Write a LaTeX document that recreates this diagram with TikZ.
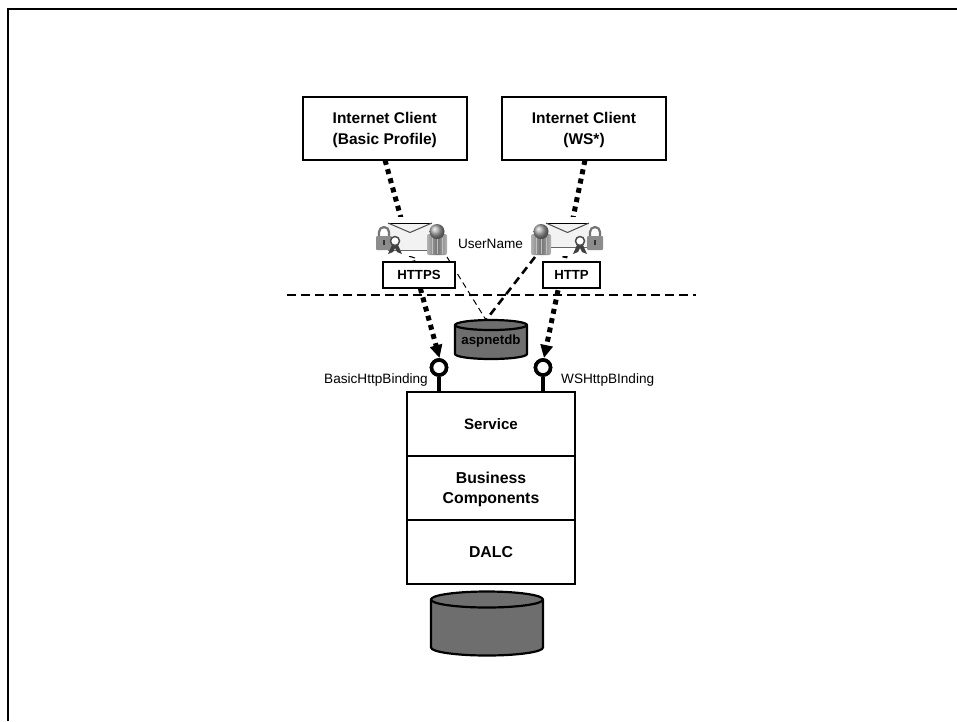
\documentclass[tikz,border=0pt]{standalone}
\usepackage{fontspec}
\setmainfont{Liberation Sans}
\usetikzlibrary{arrows.meta,shadings}
\definecolor{dbgray}{HTML}{6E6E6E}
\definecolor{envgray}{HTML}{F2F2F2}
\tikzset{
  x=1pt,y=-1pt,
  box/.style={draw=black,line width=2.3pt,fill=white,inner sep=0pt,align=center,font=\fontsize{15.8}{20.5}\selectfont\bfseries},
  clientbox/.style={box,minimum width=164pt,minimum height=63pt,font=\fontsize{15.5}{21}\selectfont\bfseries},
  layerbox/.style={box,minimum width=168pt,minimum height=64pt},
  protobox/.style={box,minimum height=26pt,font=\fontsize{13.2}{15}\selectfont\bfseries},
  lbl/.style={inner sep=0pt,font=\fontsize{13.6}{16}\selectfont},
  endpoint/.style={circle,draw=black,line width=3.6pt,fill=white,minimum size=15pt,inner sep=0pt},
  stem/.style={line width=4.5pt},
  secure/.style={line width=5pt,dash pattern=on 5pt off 4.5pt},
  securearrow/.style={secure,-{Triangle[length=13pt,width=12pt]}},
  authl/.style={line width=1pt,dash pattern=on 6pt off 4pt},
  authr/.style={line width=2.6pt,dash pattern=on 8pt off 5pt},
  zone/.style={line width=2pt,dash pattern=on 9pt off 5pt},
  db/.style={draw=black,line width=2.2pt,fill=dbgray,line join=round},
}
% centre x, top-ellipse centre y, rx, ry, body height
\newcommand{\dbcyl}[5]{%
  \draw[db] (#1-#3,#2) -- (#1-#3,#2+#5) arc[start angle=180,end angle=360,x radius=#3,y radius=-#4] -- (#1+#3,#2) -- cycle;
  \draw[db] (#1,#2) ellipse[x radius=#3,y radius=#4];
}
\newcommand{\secicon}[6]{%
  \fill[white] (#1,217) rectangle (#2,256);
  \fill[envgray] (#3,223) rectangle (#4,#6);
  \draw[line width=1pt] (#3,223) -- (#4,223);
  \draw[line width=1pt,draw=black!70] (#3,223) -- ({(#3+#4)/2},232.5) -- (#4,223);
  \draw[line width=0.8pt,draw=black!60] (#3,#6) -- (#4,#6);
}
\newcommand{\lockribbon}[2]{%
  \draw[line width=2.2pt,draw=black!55] (#1-5,240) -- (#1-5,232) arc[start angle=180,end angle=0,x radius=5,y radius=-5] -- (#1+5,240);
  \fill[black!45,rounded corners=1pt] (#1-8,236) rectangle (#1+8,250);
  \fill[black!80] (#1-1,240) rectangle (#1+1,245);
  \fill[black!75] (#2-3,245) -- (#2-7,254) -- (#2-2,252) -- (#2,248) -- (#2+2,252) -- (#2+7,254) -- (#2+3,245) -- cycle;
  \draw[line width=1.5pt,fill=white,draw=black!70] (#2,241) circle[radius=4.5];
}
\newcommand{\person}[1]{%
  \shade[left color=black!30,right color=black!30,middle color=black!55,rounded corners=2pt] (#1-10,234) rectangle (#1+10,255);
  \foreach \dx in {-5,0,5}{\draw[black!25,line width=1pt] (#1+\dx,238) -- (#1+\dx,254);}
  \shade[ball color=black!35] (#1,231.5) circle[radius=7.5];
}
\begin{document}
\begin{tikzpicture}
\useasboundingbox (0,0) rectangle (957,721);
\fill[white] (0,0) rectangle (957,721);
% page frame
\draw[line width=2.4pt] (8.2,721) -- (8.2,9) -- (957,9);

% nodes
\node[clientbox] (clientA) at (384.8,128.5) {\rule{0pt}{14pt}Internet Client\\(Basic Profile)};
\node[clientbox] (clientB) at (584,128.5) {\rule{0pt}{14pt}Internet Client\\(WS*)};
\node[endpoint] (epL) at (439,367.5) {};
\node[endpoint] (epR) at (543,367.5) {};
\node[layerbox,font=\fontsize{15.1}{20}\selectfont\bfseries] (service) at (491,424) {Service};
\node[layerbox] (business) at (491,488) {\rule{0pt}{14pt}Business\\Components};
\node[layerbox] (dalc) at (491,552) {DALC};
\coordinate (startA) at (385,160);
\coordinate (startB) at (585,160);
\coordinate (stemL) at (439,392);
\coordinate (stemR) at (543,392);
\coordinate (personL) at (447,257);
\coordinate (personR) at (535,257);
\coordinate (dbtop) at (486,320);
\coordinate (zoneL) at (287,295);
\coordinate (zoneR) at (696,295);
\coordinate (strayA) at (410,256.5);
\coordinate (strayB) at (415,258);

% secure channels, running behind the icons and protocol boxes
\draw[securearrow] (startA) -- (439.5,358);
\draw[securearrow] (startB) -- (544,358);
\draw[stem] (epL) -- (stemL);
\draw[stem] (epR) -- (stemR);
\node[endpoint] at (epL) {};
\node[endpoint] at (epR) {};

% authentication lines
\draw[authl] (personL) -- (dbtop);
\draw[authr] (personR) -- (dbtop);
\draw[line width=1pt] (strayA) -- (strayB);

% security icons
\secicon{372}{450}{388}{432}{0}{250}
\lockribbon{384}{395}
\person{437}
\secicon{528}{606}{546}{589}{0}{247}
\lockribbon{595}{580}
\person{541}

\node[lbl] (user) at (490.5,243.5) {UserName};
\node[protobox,minimum width=72pt] (https) at (419,275) {HTTPS};
\node[protobox,minimum width=57pt] (http) at (571.5,275) {HTTP};

% trust boundary
\draw[zone] (zoneL) -- (zoneR);

% databases
\dbcyl{491}{325}{36}{5}{29}
\node[inner sep=0pt,font=\fontsize{13.3}{15}\selectfont\bfseries] (aspnetdb) at (491,341) {aspnetdb};
\dbcyl{487}{599.5}{56}{8}{48}

% binding labels
\node[lbl,anchor=east] (bhb) at (428,380) {BasicHttpBinding};
\node[lbl,anchor=west] (wsb) at (561,380) {WSHttpBInding};
\end{tikzpicture}
\end{document}
